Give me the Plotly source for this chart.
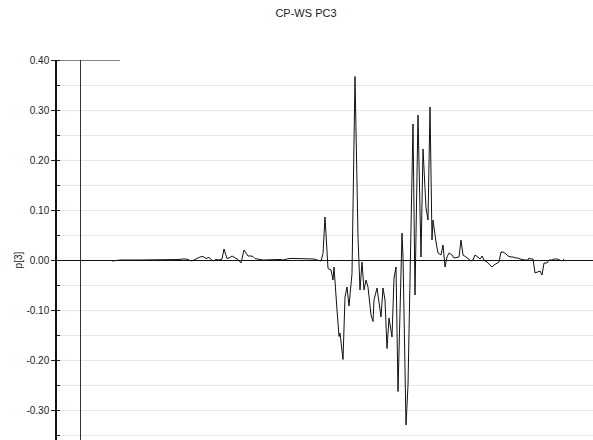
import plotly.graph_objects as go

# Variable position (x) and loading value p[3]
var_pos = [32, 40, 60, 80, 100, 102, 106, 109, 112, 115, 118, 120, 123, 126, 129, 131, 133, 136, 139,
           142, 144, 147, 150, 152, 155, 158, 161, 164, 166, 168, 171, 173, 175, 177, 180, 183,
           200, 203, 207, 210, 215, 220, 225, 230, 234, 237, 241, 243, 245, 248, 251, 253, 254, 257,
           259, 260, 263, 265, 267, 269, 272, 275, 278, 280, 282, 284, 286, 288, 291, 293, 294, 297,
           301, 303, 305, 307, 309, 312, 314, 316, 318, 322, 323, 326, 328, 333, 335, 338, 341, 343,
           346, 348, 350, 352, 353, 356, 358, 361, 363, 365, 367, 369, 372, 374, 377, 379, 381, 383,
           386, 388, 391, 393, 395, 398, 400, 402, 404, 407, 409, 412, 414, 417, 419, 421, 423, 426,
           428, 431, 433, 436, 438, 440, 443, 445, 448, 449, 451, 453, 455, 458, 460, 462, 464, 467,
           469, 472, 474, 477, 480, 482, 484]
p3 = [-0.002, 0.0, 0.0, 0.0, 0.001, 0.002, 0.002, 0.0, -0.002, 0.001, 0.004, 0.006, 0.007, 0.003, 0.005,
      0.001, -0.002, 0.001, 0.0, 0.002, 0.022, 0.003, 0.005, 0.008, 0.005, 0.001, -0.006, 0.02,
      0.014, 0.008, 0.008, 0.007, 0.003, 0.002, 0.001, 0.0,
      0.001, 0.0, 0.002, 0.003, 0.003, 0.003, 0.003, 0.003, 0.002, 0.0, -0.002, 0.013, 0.086,
      -0.017, -0.02, -0.04, -0.014, -0.1, -0.153, -0.146, -0.199, -0.074, -0.054, -0.092, -0.027,
      0.367, 0.046, -0.06, -0.004, -0.06, -0.04, -0.054, -0.11, -0.123, -0.08, -0.056, -0.114,
      -0.056, -0.08, -0.177, -0.116, -0.154, -0.036, -0.014, -0.263, 0.054, 0.006, -0.33, -0.25,
      0.272, -0.07, 0.29, 0.006, 0.222, 0.104, 0.08, 0.306, 0.04, 0.08, 0.036, 0.014, 0.01, 0.03,
      -0.014, 0.006, 0.014, 0.01, 0.004, 0.006, 0.006, 0.04, 0.01, 0.006, 0.002, -0.002, 0.0,
      0.01, 0.006, 0.002, 0.008, 0.0, -0.004, -0.008, -0.014, -0.01, -0.006, -0.004, 0.016, 0.016,
      0.012, 0.008, 0.006, 0.006, 0.004, 0.004, 0.002, 0.0, 0.0, 0.0, 0.004, 0.002, 0.002, -0.026,
      -0.024, -0.022, -0.03, -0.006, -0.006, 0.0, 0.0, 0.002, 0.002, 0.0, -0.002, 0.002]

n = min(len(var_pos), len(p3))
var_pos = var_pos[:n]
p3 = p3[:n]

y_ticks = [0.40, 0.30, 0.20, 0.10, 0.00, -0.10, -0.20, -0.30]
y_labels = ["0.40", "0.30", "0.20", "0.10", "0.00", "-0.10", "-0.20", "-0.30"]

FONT = "Liberation Sans, Arial, sans-serif"

fig = go.Figure()
fig.add_trace(go.Scatter(x=var_pos, y=p3, mode="lines",
                         line=dict(color="#111111", width=1), showlegend=False,
                         hoverinfo="skip"))

fig.update_layout(
    width=593, height=440,
    margin=dict(l=57, r=0, t=60, b=0),
    paper_bgcolor="white", plot_bgcolor="white",
    title=dict(text="CP-WS PC3", x=0.516, xref="container", xanchor="center",
               y=0.97, yref="container", yanchor="middle",
               font=dict(family=FONT, size=11, color="#222222")),
    font=dict(family=FONT, size=10, color="#222222"),
)
fig.update_xaxes(range=[-23, 513], showticklabels=False, ticks="", showgrid=False,
                 zeroline=True, zerolinecolor="#333333", zerolinewidth=1, showline=False)
fig.update_yaxes(range=[-0.36, 0.40], tickvals=y_ticks, ticktext=y_labels,
                 ticks="outside", ticklen=4, tickwidth=1, tickcolor="#222222",
                 showline=True, linecolor="#111111", linewidth=1.5,
                 showgrid=True, gridcolor="#e6e6e6", gridwidth=1,
                 zeroline=True, zerolinecolor="#111111", zerolinewidth=1,
                 minor=dict(dtick=0.05, tick0=0, ticks="inside", ticklen=3, tickcolor="#222222",
                            showgrid=True, gridcolor="#e6e6e6", gridwidth=1),
                 tickfont=dict(family=FONT, size=10, color="#222222"))

fig.add_annotation(text="p[3]", xref="paper", yref="y", x=-0.072, y=0.0,
                   textangle=-90, showarrow=False, xanchor="center", yanchor="middle",
                   font=dict(family=FONT, size=10, color="#222222"))
fig.add_shape(type="line", xref="x", yref="y", x0=-23, x1=40, y0=0.40, y1=0.40,
              line=dict(color="#111111", width=1))

fig.write_html("out.html")
